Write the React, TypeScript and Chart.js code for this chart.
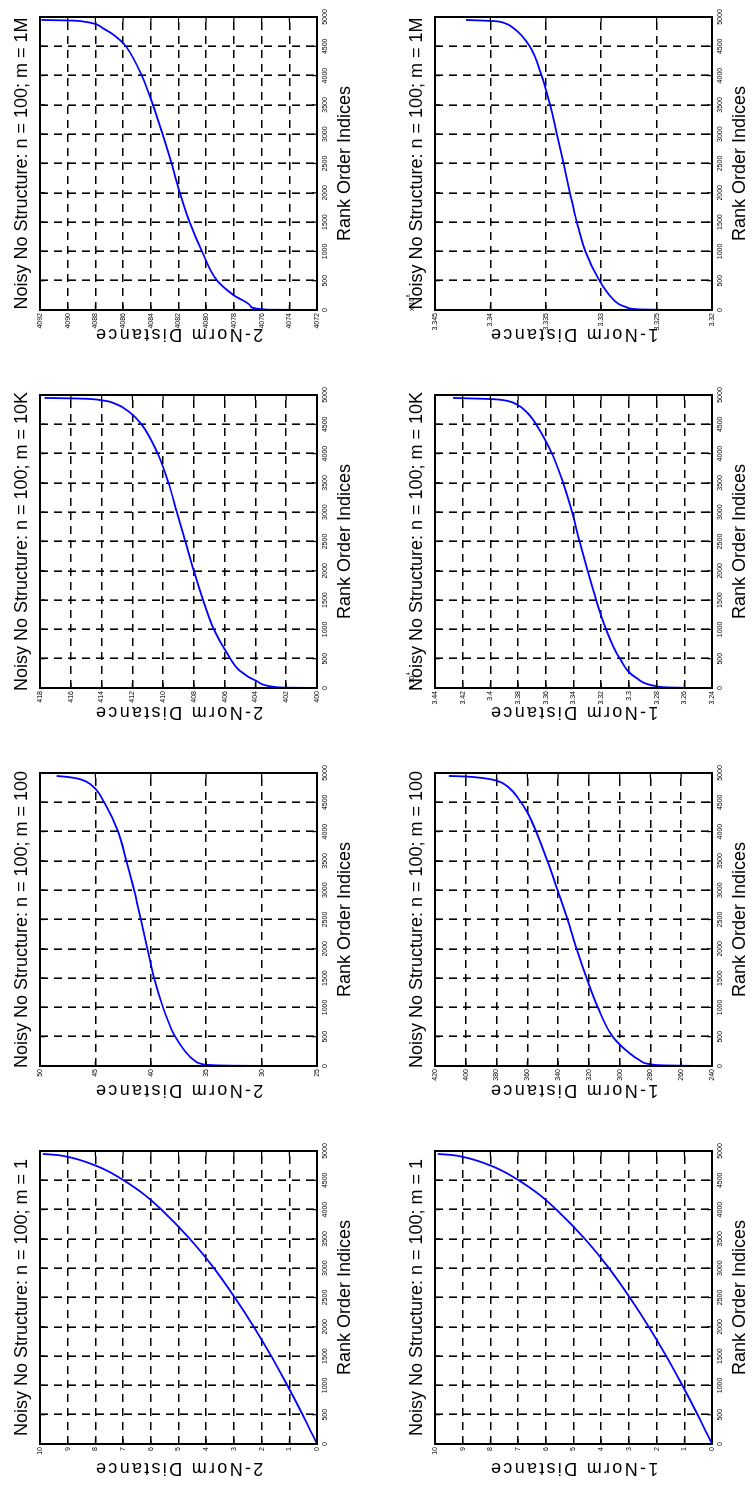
import React, { useEffect, useRef } from 'react';
import { Chart, registerables } from 'chart.js';

Chart.register(...registerables);

// Rank axis shared by every panel
const RANK_MIN = 0;
const RANK_MAX = 5000;
const RANK_STEP = 500;

// m = 1: a single coordinate, so the 1-norm and 2-norm distances coincide
const ranksM1 = [1, 100, 250, 500, 750, 1000, 1500, 2000, 2500, 3000, 3500, 4000, 4250, 4500, 4650, 4750, 4850, 4900, 4930, 4950];
const distM1 = [0.0, 0.1, 0.26, 0.52, 0.79, 1.07, 1.65, 2.28, 2.97, 3.72, 4.59, 5.62, 6.22, 6.98, 7.52, 7.98, 8.58, 9.0, 9.36, 9.9];

// 2-norm, m = 100
const ranks2N100 = [1, 5, 15, 40, 100, 250, 500, 750, 1000, 1500, 2000, 2500, 3000, 3500, 4000, 4500, 4750, 4850, 4900, 4930, 4950];
const dist2N100 = [30.0, 32.5, 34.5, 35.5, 36.1, 36.9, 37.8, 38.4, 38.9, 39.7, 40.3, 40.9, 41.5, 42.2, 42.95, 44.2, 45.1, 45.8, 46.5, 47.4, 48.5];

// 2-norm, m = 10K
const ranks2N10K = [1, 5, 20, 115, 290, 575, 1000, 1500, 2000, 2500, 3000, 3500, 4000, 4500, 4710, 4850, 4910, 4940, 4950];
const dist2N10K = [400.1, 401.8, 402.8, 403.9, 405.0, 405.8, 406.7, 407.4, 408.0, 408.55, 409.1, 409.65, 410.35, 411.4, 412.2, 413.1, 414.0, 415.5, 417.7];

// 2-norm, m = 1M
const ranks2N1M = [1, 5, 67, 250, 500, 1000, 1500, 2000, 2500, 3000, 3500, 4000, 4500, 4600, 4730, 4800, 4880, 4920, 4940, 4950];
const dist2N1M = [4072.2, 4075.6, 4076.8, 4078.0, 4079.2, 4080.3, 4081.2, 4081.9, 4082.5, 4083.15, 4083.85, 4084.65, 4085.8, 4086.2, 4086.9, 4087.4, 4088.0, 4088.8, 4089.8, 4091.9];

// 1-norm, m = 100
const ranks1N100 = [1, 10, 30, 100, 260, 500, 1000, 1500, 2000, 2500, 3000, 3500, 4000, 4320, 4550, 4750, 4870, 4910, 4940, 4950];
const dist1N100 = [249, 270, 280, 287, 295.5, 304.5, 314.2, 321.5, 328.0, 333.8, 340.3, 347.0, 354.3, 359.8, 365.5, 372, 380, 388, 400, 411];

// 1-norm, m = 10K
const ranks1N10K = [1, 10, 30, 170, 500, 1000, 1500, 2000, 2500, 3000, 3500, 4000, 4500, 4700, 4845, 4900, 4930, 4950];
const dist1N10K = [32560, 32720, 32800, 32945, 33065, 33164, 33236, 33298, 33356, 33410, 33475, 33555, 33670, 33735, 33815, 33880, 33990, 34270];

// 1-norm, m = 1M
const ranks1N1M = [1, 10, 46, 100, 220, 500, 1000, 1500, 2000, 2500, 3000, 3500, 4000, 4500, 4800, 4900, 4930, 4950];
const dist1N1M = [3323900, 3326500, 3327700, 3328400, 3329100, 3330150, 3331430, 3332200, 3332820, 3333400, 3334000, 3334620, 3335380, 3336450, 3337850, 3338800, 3339650, 3342200];

// Value-axis limits and steps per panel
const yMin2N = [0, 25, 400, 4072];
const yMax2N = [10, 50, 418, 4092];
const yStep2N = [1, 5, 2, 2];
const yMin1N = [0, 240, 32400, 3320000];
const yMax1N = [10, 420, 34400, 3345000];
const yStep1N = [1, 20, 200, 5000];
const yExp1N = [0, 0, 4, 6];

const sizeLabels = ['1', '100', '10K', '1M'];
const titlePrefix = 'Noisy No Structure: n = 100; m = ';
const xLabel = 'Rank Order Indices';
const yLabels = ['2-Norm Distance', '1-Norm Distance'];

const FONT = '"Liberation Sans", Arial, Helvetica, sans-serif';

type Panel = {
  row: number;
  col: number;
  title: string;
  yLabel: string;
  ranks: number[];
  values: number[];
  yMin: number;
  yMax: number;
  yStep: number;
  exp: number;
};

const seriesRanks = [
  [ranksM1, ranks2N100, ranks2N10K, ranks2N1M],
  [ranksM1, ranks1N100, ranks1N10K, ranks1N1M],
];
const seriesValues = [
  [distM1, dist2N100, dist2N10K, dist2N1M],
  [distM1, dist1N100, dist1N10K, dist1N1M],
];

const panels: Panel[] = [];
for (let row = 0; row < 2; row++) {
  for (let col = 0; col < 4; col++) {
    panels.push({
      row,
      col,
      title: titlePrefix + sizeLabels[col],
      yLabel: yLabels[row],
      ranks: seriesRanks[row][col],
      values: seriesValues[row][col],
      yMin: row === 0 ? yMin2N[col] : yMin1N[col],
      yMax: row === 0 ? yMax2N[col] : yMax1N[col],
      yStep: row === 0 ? yStep2N[col] : yStep1N[col],
      exp: row === 0 ? 0 : yExp1N[col],
    });
  }
}

// Figure geometry (unrotated, landscape)
const FIG_W = 1486;
const FIG_H = 752;
const CELL_W = 378;
const CELL_H = 376;
const CANVAS_W = 360;
const CANVAS_H = 376;
const PLOT_LEFT = 42;
const PLOT_W = 293;
const PLOT_H = 277;
const PLOT_TOP = [40, 59];
const Y_AXIS_W = 30;
const X_AXIS_H = 20;

function fmtTick(v: number, exp: number): string {
  const s = exp ? v / Math.pow(10, exp) : v;
  return String(Number(s.toFixed(4)));
}

function PanelChart({ p }: { p: Panel }) {
  const ref = useRef<HTMLCanvasElement>(null);

  useEffect(() => {
    const top = PLOT_TOP[p.row];
    const decorations = {
      id: 'axesDecor',
      afterDraw(chart: any) {
        const { ctx, chartArea: a, scales } = chart;
        ctx.save();
        // box around the axes
        ctx.strokeStyle = '#000';
        ctx.lineWidth = 2;
        ctx.strokeRect(a.left, a.top, a.right - a.left, a.bottom - a.top);
        // inward tick marks on all four sides
        ctx.lineWidth = 1.2;
        ctx.beginPath();
        for (const t of scales.x.ticks) {
          const x = scales.x.getPixelForValue(t.value);
          ctx.moveTo(x, a.bottom);
          ctx.lineTo(x, a.bottom - 5);
          ctx.moveTo(x, a.top);
          ctx.lineTo(x, a.top + 5);
        }
        for (const t of scales.y.ticks) {
          const y = scales.y.getPixelForValue(t.value);
          ctx.moveTo(a.left, y);
          ctx.lineTo(a.left + 5, y);
          ctx.moveTo(a.right, y);
          ctx.lineTo(a.right - 5, y);
        }
        ctx.stroke();

        const cx = (a.left + a.right) / 2;
        const cy = (a.top + a.bottom) / 2;
        ctx.fillStyle = '#000';
        ctx.textAlign = 'center';
        ctx.textBaseline = 'alphabetic';
        ctx.font = `18px ${FONT}`;
        ctx.fillText(p.title, cx, a.top - 13);
        ctx.fillText(xLabel, cx, a.bottom + 33);

        // axis multiplier above the value axis
        if (p.exp) {
          ctx.textAlign = 'left';
          ctx.font = `7px ${FONT}`;
          ctx.fillText('x 10', a.left - 1, a.top - 21);
          const w = ctx.measureText('x 10').width;
          ctx.font = `5px ${FONT}`;
          ctx.fillText(String(p.exp), a.left - 1 + w + 0.5, a.top - 25);
        }

        // value-axis label, reading upward
        ctx.translate(a.left - 19, cy);
        ctx.rotate(-Math.PI / 2);
        ctx.textAlign = 'center';
        ctx.font = `18px ${FONT}`;
        (ctx as any).letterSpacing = '2.3px';
        ctx.fillText(p.yLabel, 0, 0);
        ctx.restore();
      },
    };

    const chart = new Chart(ref.current as HTMLCanvasElement, {
      type: 'line',
      data: {
        datasets: [
          {
            data: p.ranks.map((r, i) => ({ x: r, y: p.values[i] })),
            borderColor: '#0000ff',
            borderWidth: 1.8,
            pointRadius: 0,
            fill: false,
            cubicInterpolationMode: 'monotone',
          },
        ],
      },
      options: {
        animation: false,
        responsive: false,
        devicePixelRatio: 1,
        layout: {
          autoPadding: false,
          padding: {
            left: PLOT_LEFT - Y_AXIS_W,
            top,
            right: CANVAS_W - PLOT_LEFT - PLOT_W,
            bottom: CANVAS_H - top - PLOT_H - X_AXIS_H,
          },
        },
        plugins: {
          legend: { display: false },
          tooltip: { enabled: false },
          title: { display: false },
        },
        scales: {
          x: {
            type: 'linear',
            min: RANK_MIN,
            max: RANK_MAX,
            ticks: {
              stepSize: RANK_STEP,
              autoSkip: false,
              maxRotation: 0,
              padding: 4,
              color: '#000',
              font: { size: 7, family: FONT },
              callback: (v: any) => String(v),
            },
            grid: { color: '#000', lineWidth: 1.6, drawTicks: false },
            border: { display: false, dash: [8, 6] },
            afterFit: (s: any) => {
              s.height = X_AXIS_H;
            },
          },
          y: {
            type: 'linear',
            min: p.yMin,
            max: p.yMax,
            ticks: {
              stepSize: p.yStep,
              autoSkip: false,
              padding: 3,
              color: '#000',
              font: { size: 7, family: FONT },
              callback: (v: any) => fmtTick(Number(v), p.exp),
            },
            grid: { color: '#000', lineWidth: 1.6, drawTicks: false },
            border: { display: false, dash: [8, 6] },
            afterFit: (s: any) => {
              s.width = Y_AXIS_W;
            },
          },
        },
      },
      plugins: [decorations],
    } as any);

    return () => chart.destroy();
  }, [p]);

  return (
    <canvas
      ref={ref}
      width={CANVAS_W}
      height={CANVAS_H}
      style={{ position: 'absolute', left: p.col * CELL_W, top: p.row * CELL_H, width: CANVAS_W, height: CANVAS_H }}
    />
  );
}

export default function App() {
  return (
    <div style={{ position: 'absolute', left: 0, top: 0, width: FIG_H, height: FIG_W, overflow: 'hidden', background: '#fff' }}>
      <div
        style={{
          position: 'absolute',
          left: 0,
          top: 0,
          width: FIG_W,
          height: FIG_H,
          transformOrigin: '0 0',
          transform: `translateY(${FIG_W}px) rotate(-90deg)`,
          background: '#fff',
        }}
      >
        {panels.map((p) => (
          <PanelChart key={`${p.row}-${p.col}`} p={p} />
        ))}
      </div>
    </div>
  );
}
